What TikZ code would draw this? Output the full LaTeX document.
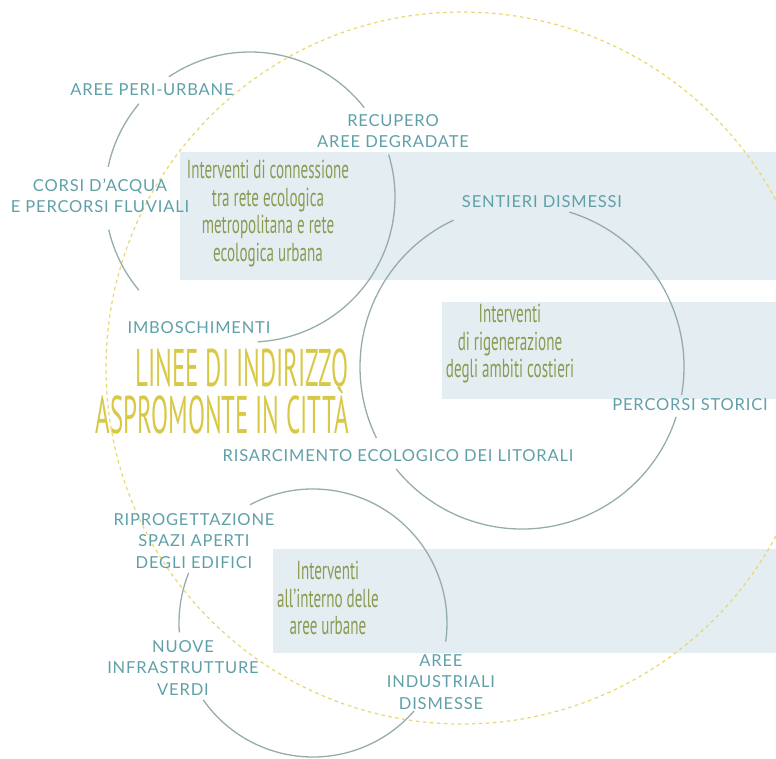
\documentclass[tikz,border=0pt]{standalone}
\usepackage{fontspec}
\setmainfont[LetterSpace=5]{Lato}
\newfontfamily\condfont[FakeStretch=0.58]{PT Sans}
\newfontfamily\titlefont[FakeStretch=0.47]{PT Sans}
\definecolor{ringgrey}{RGB}{150,172,172}
\definecolor{tagteal}{RGB}{95,160,168}
\definecolor{themegreen}{RGB}{140,154,82}
\definecolor{titleyellow}{RGB}{215,200,70}
\definecolor{dashyellow}{RGB}{230,216,110}
\definecolor{bandblue}{RGB}{228,237,241}

\tikzset{
  ringarc/.style={draw=ringgrey, line width=1.3pt},
  bigring/.style={draw=dashyellow, line width=1.2pt, dash pattern=on 3.5pt off 3.5pt},
  tag/.style={text=tagteal, font=\fontsize{16.5}{21.5}\selectfont, align=center, inner sep=0pt},
  theme/.style={text=themegreen, font=\condfont\fontsize{26}{27.5}\selectfont, align=center, inner sep=0pt},
  headline/.style={text=titleyellow, font=\titlefont\fontsize{53}{47}\selectfont, align=right, inner sep=0pt}
}

\begin{document}
\begin{tikzpicture}[x=1pt,y=-1pt]
  % canvas
  \useasboundingbox (0,0) rectangle (776,758);
  \clip (0,0) rectangle (776,758);

  % light bands behind the themes
  \fill[bandblue] (180,152) rectangle (776,280);
  \fill[bandblue] (442,302) rectangle (776,399);
  \fill[bandblue] (273,549) rectangle (776,653);

  % ring centres
  \coordinate (ring1) at (250,197);
  \coordinate (ring2) at (522,367);
  \coordinate (ring3) at (313,623);

  % grey rings, broken where the labels sit
  \foreach \a/\b in {-124/-38, 192/220, 140/167, -17/87}
    \draw[ringarc] (ring1) ++(\a:145) arc[start angle=\a, end angle=\b, radius=145];
  \foreach \a/\b in {154/245, 18/141, -73/10}
    \draw[ringarc] (ring2) ++(\a:162) arc[start angle=\a, end angle=\b, radius=162];
  \foreach \a/\b in {-118/8, 176/202, 41/145}
    \draw[ringarc] (ring3) ++(\a:134) arc[start angle=\a, end angle=\b, radius=134];

  % big dashed ring
  \draw[bigring] (462,368) circle[radius=356];

  % labels
  \node[tag] (periurbane) at (152,90) {AREE PERI-URBANE};
  \node[tag] (recupero) at (393,131) {RECUPERO\\AREE DEGRADATE};
  \node[tag] (corsi) at (100,196) {CORSI D’ACQUA\\E PERCORSI FLUVIALI};
  \node[tag] (sentieri) at (542,202) {SENTIERI DISMESSI};
  \node[tag] (imboschimenti) at (199,328) {IMBOSCHIMENTI};
  \node[tag] (storici) at (690,405) {PERCORSI STORICI};
  \node[tag] (risarcimento) at (398,456) {RISARCIMENTO ECOLOGICO DEI LITORALI};
  \node[tag] (riprogettazione) at (194,541) {RIPROGETTAZIONE\\SPAZI APERTI\\DEGLI EDIFICI};
  \node[tag] (nuove) at (183,668) {NUOVE\\INFRASTRUTTURE\\VERDI};
  \node[tag] (industriali) at (441,682) {AREE\\INDUSTRIALI\\DISMESSE};

  % themes
  \node[theme, anchor=north] (connessione) at (268,160) {Interventi di connessione\\tra rete ecologica\\metropolitana e rete\\ecologica urbana};
  \node[theme, anchor=north] (costieri) at (510,304) {Interventi\\di rigenerazione\\degli ambiti costieri};
  \node[theme, anchor=north] (urbane) at (328,561) {Interventi\\all’interno delle\\aree urbane};

  % title
  \node[headline, anchor=north east] (titolo) at (349,349) {LINEE DI INDIRIZZO\\ASPROMONTE IN CITTÀ};
\end{tikzpicture}
\end{document}
